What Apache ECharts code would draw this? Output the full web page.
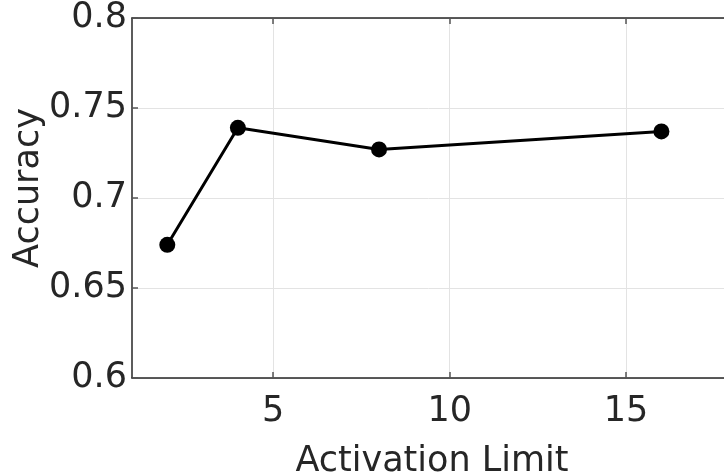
<!DOCTYPE html>
<html><head><meta charset="utf-8">
<script src="https://cdn.jsdelivr.net/npm/echarts@6/dist/echarts.min.js"></script>
<style>html,body{margin:0;padding:0;background:#fff}#c{width:724px;height:473px}</style>
</head><body><div id="c"></div>
<script>
const activationLimit = [2, 4, 8, 16];
const accuracy = [0.674, 0.739, 0.727, 0.737];
const xTicks = [5, 10, 15];
const yTicks = [0.6, 0.65, 0.7, 0.75, 0.8];

const chart = echarts.init(document.getElementById('c'), null, {renderer: 'canvas'});
const font = 'DejaVu Sans';
const axisColor = '#262626';
const gridColor = '#e3e3e3';
chart.setOption({
  animation: false,
  grid: {left: 132, top: 18, bottom: 95, right: -8, containLabel: false, outerBoundsMode: 'none'},
  xAxis: [{
    type: 'value', min: 1, max: 18, position: 'bottom',
    name: 'Activation Limit', nameLocation: 'middle', nameGap: 66, nameMoveOverlap: false,
    nameTextStyle: {fontFamily: font, fontSize: 35, color: axisColor},
    axisLine: {show: true, onZero: false, lineStyle: {color: axisColor, width: 1.5}},
    axisTick: {show: true, inside: true, length: 6, customValues: xTicks, lineStyle: {color: '#555', width: 1.5}},
    axisLabel: {customValues: xTicks, fontFamily: font, fontSize: 35, color: axisColor, margin: 16},
    splitLine: {show: true, customValues: xTicks, lineStyle: {color: gridColor, width: 1}}
  }, {
    type: 'value', min: 1, max: 18, position: 'top',
    axisLine: {show: true, onZero: false, lineStyle: {color: axisColor, width: 1.5}},
    axisTick: {show: true, inside: true, length: 6, customValues: xTicks, lineStyle: {color: '#555', width: 1.5}},
    axisLabel: {show: false},
    splitLine: {show: false}
  }],
  yAxis: [{
    type: 'value', min: 0.6, max: 0.8, interval: 0.05,
    name: 'Accuracy', nameLocation: 'middle', nameGap: 86, nameMoveOverlap: false,
    nameTextStyle: {fontFamily: font, fontSize: 35, color: axisColor, padding: [0, 0, 0, 20]},
    axisLine: {show: true, onZero: false, lineStyle: {color: axisColor, width: 1.5}},
    axisTick: {show: true, inside: true, length: 6, lineStyle: {color: '#555', width: 1.5}},
    axisLabel: {fontFamily: font, fontSize: 35, color: axisColor, margin: 5},
    splitLine: {show: true, lineStyle: {color: gridColor, width: 1}}
  }],
  series: [{
    type: 'line',
    data: activationLimit.map((x, i) => [x, accuracy[i]]),
    symbol: 'circle', symbolSize: 16,
    lineStyle: {color: '#000', width: 3},
    itemStyle: {color: '#000'},
    z: 10
  }]
});
</script></body></html>
